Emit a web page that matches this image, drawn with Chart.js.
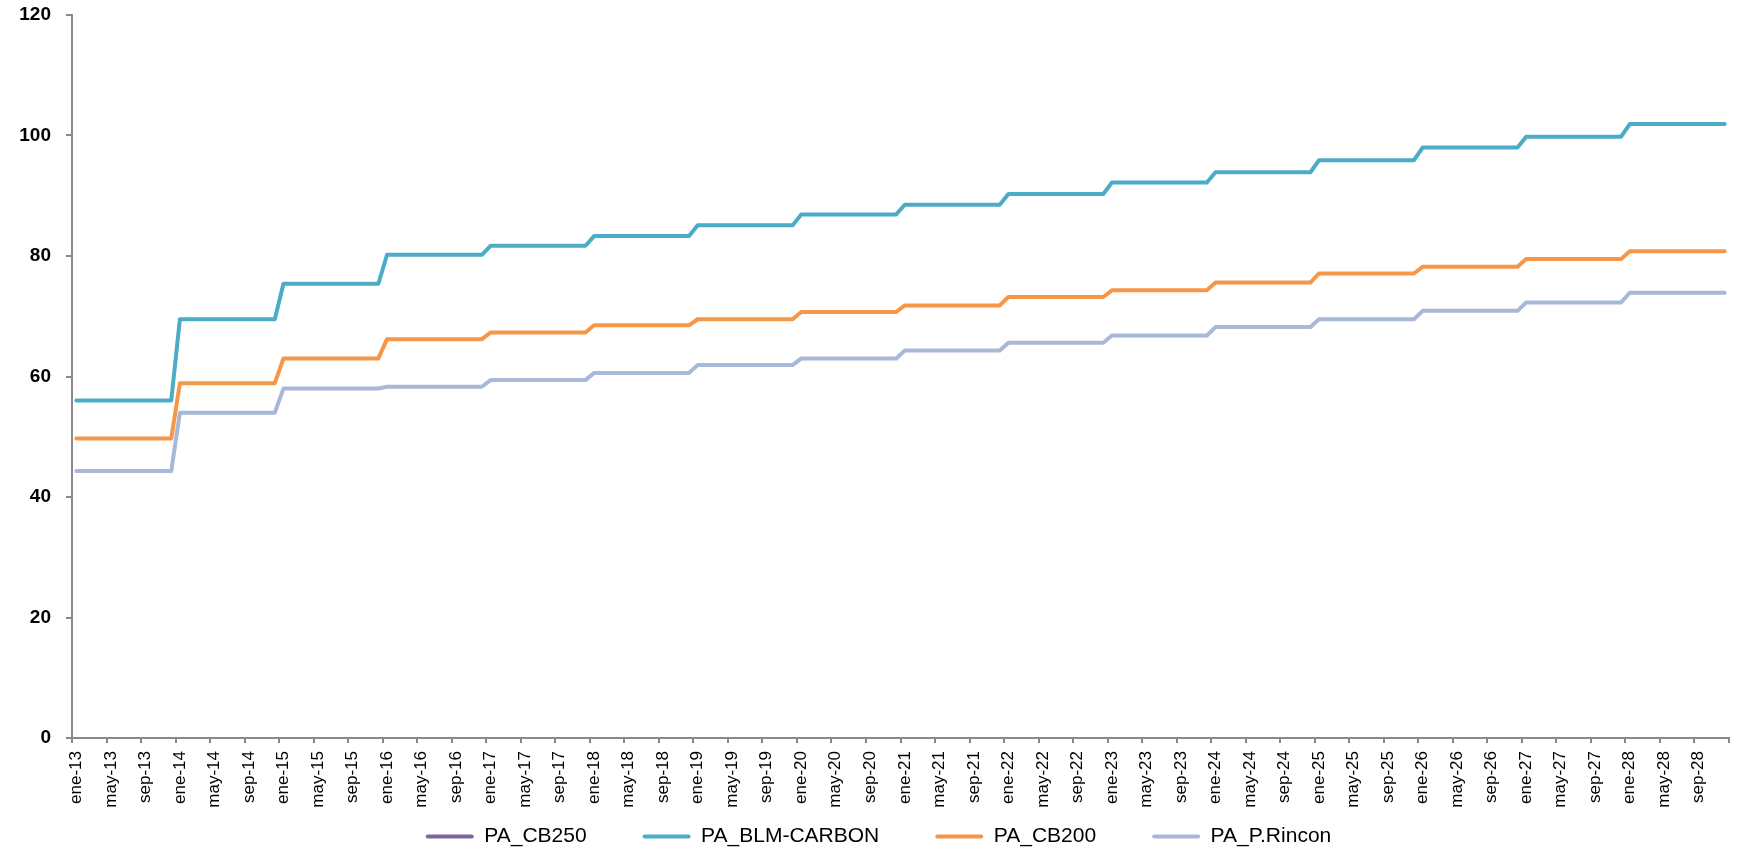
<!DOCTYPE html>
<html lang="es">
<head>
  <meta charset="UTF-8" />
  <title>PA</title>
  <script src="https://cdn.jsdelivr.net/npm/chart.js"></script>
  <style>
    html, body { margin: 0; padding: 0; background: #fff; }
    canvas { display: block; }
  </style>
</head>
<body>
  <canvas id="grafico" width="1744" height="850"></canvas>

  <script>
    // etiquetas del eje x: mes-año
    const meses = ['ene','feb','mar','abr','may','jun','jul','ago','sep','oct','nov','dic'];
    const anios = ['13','14','15','16','17','18','19','20','21','22','23','24','25','26','27','28'];

    // valores anuales (constantes todo el año), 2013..2028
    const paCB250 = [];
    const paBLMCarbon = [56.0, 69.5, 75.4, 80.2, 81.7, 83.3, 85.1, 86.9, 88.5, 90.3, 92.2, 93.9, 95.9, 98.0, 99.8, 101.9];
    const paCB200 = [49.7, 58.9, 63.0, 66.2, 67.3, 68.5, 69.5, 70.7, 71.8, 73.2, 74.3, 75.6, 77.1, 78.2, 79.5, 80.8];
    const paPRincon = [44.3, 54.0, 58.0, 58.3, 59.4, 60.6, 61.9, 63.0, 64.3, 65.6, 66.8, 68.2, 69.5, 70.9, 72.3, 73.9];

    const yTicks = [0, 20, 40, 60, 80, 100, 120];

    const etiquetas = [];
    anios.forEach(a => meses.forEach(m => etiquetas.push(m + '-' + a)));

    // cada valor anual se repite en sus 12 meses
    function mensual(anual) {
      const out = [];
      anual.forEach(v => { for (let i = 0; i < meses.length; i++) out.push(v); });
      return out;
    }

    const gris = '#898989';
    const fuente = "'Liberation Sans', Arial, sans-serif";

    function serie(nombre, valores, color) {
      return {
        label: nombre,
        data: mensual(valores),
        borderColor: color,
        backgroundColor: color,
        borderWidth: 4,
        pointRadius: 0,
        tension: 0,
        borderCapStyle: 'round',
        borderJoinStyle: 'round',
        fill: false
      };
    }

    // el eje x ocupa poco alto para que la leyenda quede abajo;
    // aqui se alarga su caja para que las etiquetas no se recorten
    const ajusteLayout = {
      id: 'ajusteLayout',
      afterLayout(ch) {
        ch.scales.x.bottom = ch.height;
        ch.legend.left += 14;
        ch.legend.right += 14;
      }
    };

    const ctx = document.getElementById('grafico').getContext('2d');

    const chart = new Chart(ctx, {
      type: 'line',
      data: {
        labels: etiquetas,
        datasets: [
          serie('PA_CB250', paCB250, '#8064A2'),
          serie('PA_BLM-CARBON', paBLMCarbon, '#4BACC6'),
          serie('PA_CB200', paCB200, '#F79646'),
          serie('PA_P.Rincon', paPRincon, '#A7B8D8')
        ]
      },
      plugins: [ajusteLayout],
      options: {
        responsive: false,
        animation: false,
        layout: { padding: { left: 0, right: 15, top: 15, bottom: 0 } },
        scales: {
          x: {
            offset: true,
            afterFit: s => { s.height = 32; s.paddingLeft = 0; s.paddingRight = 0; },
            grid: {
              offset: true,
              drawOnChartArea: false,
              tickLength: 5,
              lineWidth: 2,
              color: c => (c.type !== 'tick' || c.index % 4 === 0) ? gris : 'rgba(0,0,0,0)'
            },
            border: { color: gris, width: 2 },
            ticks: {
              autoSkip: false,
              minRotation: 90,
              maxRotation: 90,
              padding: 8,
              color: '#000',
              font: { family: fuente, size: 17 },
              callback: function (v, i) {
                return i % 4 === 0 ? this.getLabelForValue(v) : '';
              }
            }
          },
          y: {
            min: 0,
            max: 120,
            afterFit: s => { s.width = 72; s.paddingTop = 0; s.paddingBottom = 0; },
            afterBuildTicks: s => { s.ticks = yTicks.map(v => ({ value: v })); },
            grid: { drawOnChartArea: false, tickLength: 6, lineWidth: 2, color: gris },
            border: { color: gris, width: 2 },
            ticks: {
              padding: 15,
              color: '#000',
              font: { family: fuente, size: 19, weight: 'bold' }
            }
          }
        },
        plugins: {
          legend: {
            position: 'bottom',
            maxHeight: 80,
            labels: {
              boxWidth: 48,
              boxHeight: 4,
              padding: 56,
              color: '#000',
              useBorderRadius: true,
              borderRadius: 2,
              font: { family: fuente, size: 21 },
              generateLabels: ch => Chart.defaults.plugins.legend.labels.generateLabels(ch)
                .map(it => Object.assign(it, { lineWidth: 0 }))
            }
          },
          tooltip: { enabled: false }
        }
      }
    });
  </script>
</body>
</html>
